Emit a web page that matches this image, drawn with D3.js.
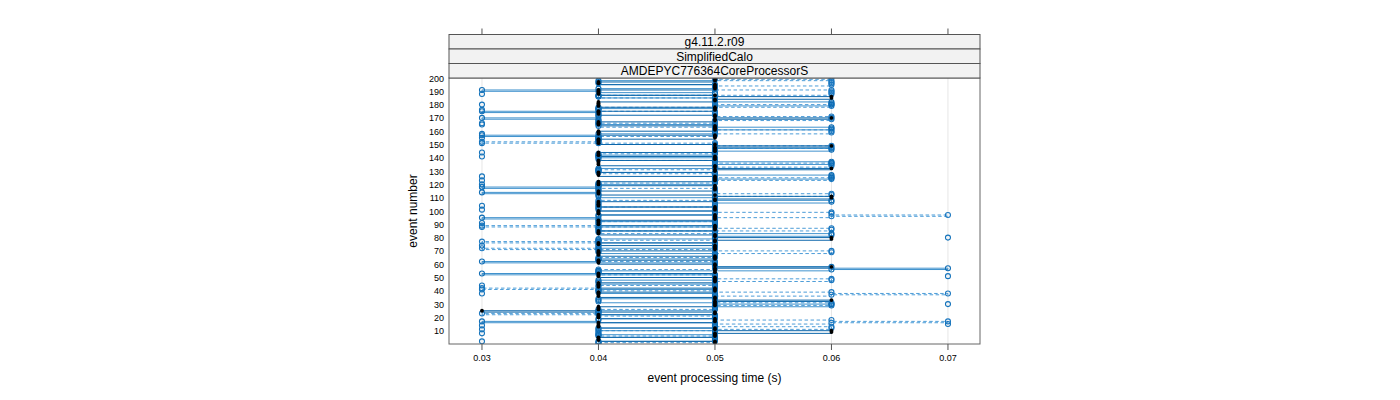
<!DOCTYPE html>
<html><head><meta charset="utf-8">
<script src="https://cdn.jsdelivr.net/npm/d3@7"></script>
<style>body{margin:0;background:#fff;} svg{display:block;font-family:"Liberation Sans",Arial,sans-serif;}</style>
</head><body><svg id="c" width="1400" height="400"></svg>
<script>
// ---- data (times in units of 0.01 s, index 0 = event 1) ----
const stripLabels = ["g4.11.2.r09", "SimplifiedCalo", "AMDEPYC776364CoreProcessorS"];
const xTicks = [0.03, 0.04, 0.05, 0.06, 0.07];
const yTicks = [10,20,30,40,50,60,70,80,90,100,110,120,130,140,150,160,170,180,190,200];
const runA = [5,5,4,4,4,5,5,5,6,6,5,5,4,4,4,4,5,5,5,4,
              4,4,5,5,3,4,4,4,5,5,5,5,6,5,5,4,4,4,4,5,
              5,5,4,4,4,4,5,5,5,5,4,4,4,5,5,5,5,6,5,5,
              4,4,4,5,5,5,4,4,4,4,5,5,5,5,4,4,5,5,6,6,
              5,5,4,4,4,5,5,5,5,4,4,4,4,5,5,5,5,4,4,4,
              5,5,5,4,4,4,4,5,5,6,6,5,4,4,4,5,5,5,5,4,
              4,4,5,5,5,5,4,4,4,5,5,6,5,5,4,4,4,4,5,5,
              5,4,4,4,5,5,5,5,6,5,4,4,4,4,5,5,5,4,4,4,
              5,5,5,5,4,4,4,5,5,6,5,5,4,4,4,5,5,5,4,4,
              4,4,5,5,6,6,5,4,4,4,4,5,5,5,5,4,4,5,5,5];
const runB = [4,4,5,5,5,4,4,5,5,5,4,4,5,5,5,5,3,4,4,5,
              5,5,4,4,4,5,5,5,6,6,5,4,4,4,5,5,5,5,4,4,
              4,5,5,5,5,4,4,4,5,5,5,5,3,4,4,6,7,6,5,5,
              5,3,4,4,5,5,5,5,4,4,4,4,5,5,5,5,4,4,4,5,
              5,6,6,5,5,4,4,4,5,5,5,5,4,4,3,4,4,5,5,5,
              4,4,4,5,5,5,6,6,5,5,4,4,4,3,4,4,4,3,4,4,
              5,5,5,5,6,6,6,5,5,4,4,4,5,5,5,6,6,5,5,5,
              4,4,5,5,5,6,6,5,5,5,4,4,4,4,4,4,3,4,5,5,
              5,6,6,5,5,4,4,4,4,3,4,4,4,4,3,4,4,5,5,6,
              6,6,5,5,5,4,4,5,5,4,3,4,5,5,5,4,4,4,5,5];
const runC = [4,5,5,5,5,5,4,4,4,4,5,6,6,5,5,6,7,6,5,5,
              5,4,3,4,4,4,5,5,5,6,6,5,5,5,5,5,6,7,6,5,
              4,3,4,4,5,5,5,6,6,5,5,5,4,4,4,4,5,5,5,5,
              5,5,4,4,4,5,5,5,6,6,5,3,4,4,4,4,3,4,5,5,
              5,5,5,4,4,6,6,5,3,4,4,4,5,5,5,6,7,6,6,5,
              5,5,5,4,4,4,4,4,5,5,5,6,6,5,5,5,5,4,4,4,
              4,5,5,6,6,5,5,5,4,4,4,5,5,6,6,6,5,5,4,4,
              4,4,4,5,5,5,5,6,6,5,5,3,4,4,4,4,5,5,6,6,
              6,5,5,4,4,4,5,5,6,6,6,5,5,5,5,4,4,4,6,6,
              5,5,5,5,5,4,4,6,6,6,6,5,5,5,6,6,6,6,5,6];
const extraEvents = [2,8,11,14,38,41,44,74,88,91,101,104,118,120,123,126,141,144,151,155,158,165,166,176,180,188,15,30,51,80];
const extraTimes  = [3,3,3,3,3,3,3,3,3,3,3,3,3,3,3,3,3,3,3,3,3,3,3,3,3,3,7,7,7,7];

const svg = d3.select("#c");
const L = 449, R = 980, T = 78, B = 344;
const x = d3.scaleLinear().domain([0.02717, 0.07275]).range([L, R]);
const y = d3.scaleLinear().domain([0, 200]).range([B, T]);

const toPts = arr => arr.map((v, i) => ({e: i + 1, t: v / 100}));
const series = [
  {pts: toPts(runC), stroke: "#3a92d4", width: 1, dash: "3.5,2.5", opacity: 0.9, fill: "none", pstroke: "#1c78c0"},
  {pts: toPts(runB), stroke: "#2b86c8", width: 1, dash: null, opacity: 0.9, fill: "none", pstroke: "#0f6db5"},
  {pts: toPts(runA), stroke: "#0c66aa", width: 1, dash: null, opacity: 1, fill: "#000", pstroke: "#000"}
];
const extras = extraEvents.map((e, i) => ({e, t: extraTimes[i] / 100}));

// clip
svg.append("defs").append("clipPath").attr("id", "pc")
  .append("rect").attr("x", L).attr("y", T).attr("width", R - L).attr("height", B - T);

// grid
svg.append("g").selectAll("line").data(xTicks).join("line")
  .attr("x1", d => x(d)).attr("x2", d => x(d)).attr("y1", T).attr("y2", B)
  .attr("stroke", "#e6e6e6").attr("stroke-width", 1);

const plot = svg.append("g").attr("clip-path", "url(#pc)");
const line = d3.line().x(d => x(d.t)).y(d => y(d.e)).curve(d3.curveStepAfter);

series.forEach(s => {
  plot.append("path").datum(s.pts).attr("d", line).attr("fill", "none")
    .attr("stroke", s.stroke).attr("stroke-width", s.width).attr("stroke-opacity", s.opacity)
    .attr("stroke-dasharray", s.dash);
});
series.forEach(s => {
  if (s.fill === "none") {
    plot.append("g").selectAll("circle").data(s.pts).join("circle")
      .attr("cx", d => x(d.t)).attr("cy", d => y(d.e)).attr("r", 2.5)
      .attr("fill", "none").attr("stroke", s.pstroke).attr("stroke-width", 1.1);
  }
});
plot.append("g").selectAll("circle").data(extras).join("circle")
  .attr("cx", d => x(d.t)).attr("cy", d => y(d.e)).attr("r", 2.5)
  .attr("fill", "none").attr("stroke", "#1473bb").attr("stroke-width", 1.1);
const sA = series[2];
plot.append("g").selectAll("circle").data(sA.pts).join("circle")
  .attr("cx", d => x(d.t)).attr("cy", d => y(d.e)).attr("r", 1.9)
  .attr("fill", "#000");

// panel border
svg.append("rect").attr("x", L).attr("y", T).attr("width", R - L).attr("height", B - T)
  .attr("fill", "none").attr("stroke", "#666").attr("stroke-width", 1);

// strips
const stripH = 14.5;
stripLabels.forEach((lab, i) => {
  const y0 = T - stripH * (3 - i);
  svg.append("rect").attr("x", L).attr("y", y0).attr("width", R - L).attr("height", stripH)
    .attr("fill", "#f2f2f2").attr("stroke", "#555").attr("stroke-width", 1);
  svg.append("text").attr("x", (L + R) / 2).attr("y", y0 + stripH / 2 + 4.3)
    .attr("text-anchor", "middle").attr("font-size", 12).attr("fill", "#000").text(lab);
});

// x axes
const topY = T - stripH * 3;
svg.append("g").selectAll("line").data(xTicks).join("line")
  .attr("x1", d => x(d)).attr("x2", d => x(d)).attr("y1", topY - 6).attr("y2", topY)
  .attr("stroke", "#555");
svg.append("g").selectAll("line").data(xTicks).join("line")
  .attr("x1", d => x(d)).attr("x2", d => x(d)).attr("y1", B).attr("y2", B + 6)
  .attr("stroke", "#555");
svg.append("g").selectAll("text").data(xTicks).join("text")
  .attr("x", d => x(d)).attr("y", B + 16.5).attr("text-anchor", "middle")
  .attr("font-size", 9).text(d => d3.format(".2f")(d));

// y labels
svg.append("g").selectAll("text").data(yTicks).join("text")
  .attr("x", L - 5).attr("y", d => y(d) + 3.5).attr("text-anchor", "end")
  .attr("font-size", 9).text(d => d);

// titles
svg.append("text").attr("x", (L + R) / 2).attr("y", 382).attr("text-anchor", "middle")
  .attr("font-size", 12).text("event processing time (s)");
svg.append("text").attr("transform", `translate(417,${(T + B) / 2}) rotate(-90)`)
  .attr("text-anchor", "middle").attr("font-size", 12).text("event number");
</script></body></html>
